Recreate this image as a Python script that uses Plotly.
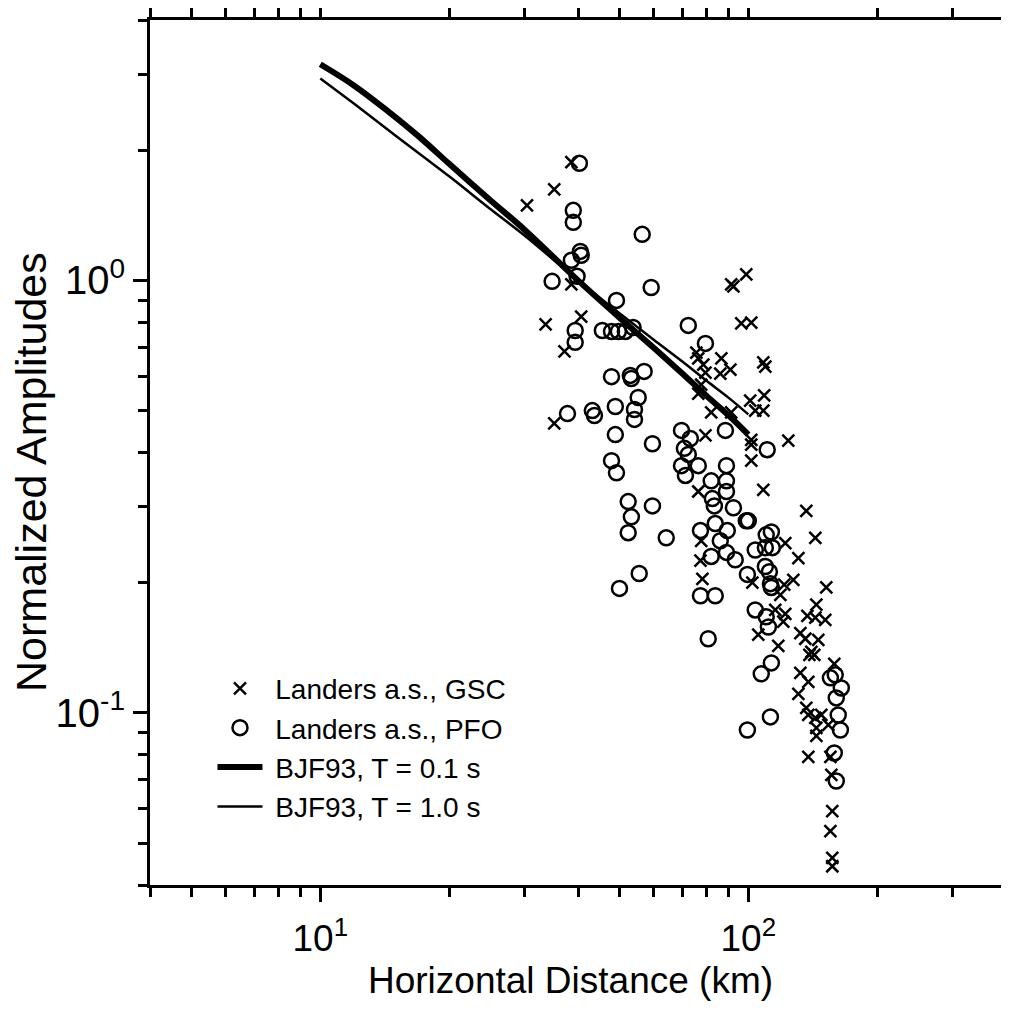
import plotly.graph_objects as go

# Landers aftershocks recorded at GSC (crosses)
gsc_dist = [38.6, 35.2, 30.4, 38.6, 40.7, 33.6, 37.2, 35.2, 75.6, 76.4,
            78.5, 79.4, 91.2, 92.3, 98.9, 96.3, 101.6, 86.5, 90.8, 86.0,
            108.4, 109.6, 108.9, 101.0, 103.8, 108.4, 77.6, 76.4, 81.9, 91.2,
            79.4, 101.6, 101.6, 124.0, 101.6, 108.4, 76.4, 136.6, 143.4, 77.6,
            122.0, 130.9, 77.3, 78.1, 127.4, 121.3, 118.8, 152.1, 102.2, 115.6,
            122.0, 120.7, 144.2, 137.4, 143.4, 151.3, 105.5, 117.5, 132.3, 135.9,
            145.7, 140.4, 142.6, 138.9, 158.8, 132.3, 138.1, 130.9, 136.6, 138.1,
            143.4, 148.1, 153.8, 144.2, 144.2, 138.1, 155.5, 156.3, 157.1, 155.5,
            157.1, 157.1]
gsc_amp = [1.876, 1.624, 1.491, 0.979, 0.825, 0.791, 0.685, 0.467, 0.681, 0.660,
           0.639, 0.612, 0.979, 0.969, 1.032, 0.795, 0.799, 0.660, 0.622, 0.609,
           0.646, 0.632, 0.542, 0.527, 0.500, 0.500, 0.574, 0.547, 0.495, 0.495,
           0.438, 0.428, 0.417, 0.426, 0.383, 0.328, 0.325, 0.293, 0.254, 0.250,
           0.247, 0.228, 0.225, 0.204, 0.203, 0.198, 0.1875, 0.195, 0.200, 0.173,
           0.1695, 0.1625, 0.178, 0.1677, 0.166, 0.164, 0.1516, 0.1429, 0.153, 0.1484,
           0.1476, 0.1384, 0.1362, 0.1362, 0.1298, 0.1238, 0.118, 0.1106, 0.1027, 0.0989,
           0.0974, 0.0989, 0.0938, 0.0923, 0.0885, 0.0791, 0.0791, 0.0719, 0.0593, 0.0533,
           0.0462, 0.0442]

# Landers aftershocks recorded at PFO (circles)
pfo_dist = [40.3, 39.0, 39.0, 56.5, 40.5, 40.7, 38.6, 39.8, 34.8, 59.3,
            49.2, 39.4, 39.4, 45.6, 47.9, 49.7, 51.6, 53.8, 72.4, 79.4,
            47.9, 53.0, 53.3, 57.1, 55.3, 54.2, 54.2, 48.9, 37.8, 43.2,
            43.7, 48.9, 59.7, 47.9, 49.2, 69.8, 73.2, 70.9, 72.4, 69.8,
            71.3, 76.4, 88.4, 110.7, 88.9, 81.9, 88.9, 88.9, 82.4, 83.3,
            92.3, 52.4, 53.3, 52.4, 59.7, 64.3, 83.7, 77.3, 89.3, 86.0,
            88.9, 93.2, 98.9, 100.0, 81.9, 77.3, 83.7, 55.6, 50.0, 80.6,
            99.5, 103.8, 110.1, 113.2, 109.6, 113.8, 109.6, 112.0, 112.6, 113.2,
            103.8, 110.1, 111.4, 107.2, 113.2, 155.5, 159.6, 164.9, 160.5, 162.2,
            164.1, 112.6, 99.5, 158.8, 160.5]
pfo_amp = [1.866, 1.452, 1.362, 1.278, 1.167, 1.143, 1.113, 1.022, 0.995, 0.963,
           0.899, 0.766, 0.719, 0.766, 0.762, 0.762, 0.762, 0.778, 0.787, 0.715,
           0.599, 0.603, 0.593, 0.616, 0.536, 0.503, 0.477, 0.511, 0.492, 0.500,
           0.487, 0.440, 0.419, 0.383, 0.359, 0.450, 0.431, 0.409, 0.396, 0.373,
           0.354, 0.373, 0.450, 0.406, 0.373, 0.344, 0.344, 0.325, 0.313, 0.301,
           0.298, 0.308, 0.284, 0.261, 0.301, 0.254, 0.274, 0.264, 0.264, 0.250,
           0.235, 0.226, 0.278, 0.278, 0.230, 0.1866, 0.1866, 0.210, 0.194, 0.1484,
           0.209, 0.238, 0.258, 0.262, 0.241, 0.241, 0.218, 0.212, 0.199, 0.195,
           0.173, 0.1668, 0.158, 0.1231, 0.1305, 0.1205, 0.1225, 0.1142, 0.1083, 0.0989,
           0.0913, 0.0979, 0.0913, 0.0808, 0.0696]

# BJF93 curves
bjf01_dist = [10, 12, 14.4, 17, 20, 25, 30, 40, 50, 60, 70, 80, 90, 100]
bjf01_amp = [3.16, 2.82, 2.46, 2.15, 1.86, 1.53, 1.31, 1.00, 0.82, 0.70, 0.61, 0.54, 0.487, 0.44]
bjf10_dist = [10, 12, 15, 20, 25, 30, 40, 50, 60, 70, 80, 90, 100]
bjf10_amp = [2.93, 2.56, 2.16, 1.74, 1.46, 1.27, 1.00, 0.84, 0.73, 0.65, 0.585, 0.535, 0.49]

x_ticks = [10, 100]
x_ticktext = ["10<sup>1</sup>", "10<sup>2</sup>"]
x_minor = [4, 5, 6, 7, 8, 9, 20, 30, 40, 50, 60, 70, 80, 90, 200, 300, 400]
y_ticks = [0.1, 1]
y_ticktext = ["10<sup>-1</sup>", "10<sup>0</sup>"]
y_minor = [0.04, 0.05, 0.06, 0.07, 0.08, 0.09, 0.2, 0.3, 0.4, 0.5, 0.6, 0.7, 0.8, 0.9, 2, 3, 4]

FONT = "Liberation Sans, Arial, Helvetica, sans-serif"
GAP = "\u00a0"  # a little extra room between legend symbol and text

fig = go.Figure()

fig.add_trace(go.Scatter(
    x=gsc_dist, y=gsc_amp, mode="markers", name=GAP + "Landers a.s., GSC",
    legendgroup="a",
    marker=dict(symbol="x-thin", size=12, color="black",
                line=dict(color="black", width=2.5)),
))
fig.add_trace(go.Scatter(
    x=pfo_dist, y=pfo_amp, mode="markers", name=GAP + "Landers a.s., PFO",
    legendgroup="b",
    marker=dict(symbol="circle-open", size=15, color="black",
                line=dict(color="black", width=2.5)),
))
fig.add_trace(go.Scatter(
    x=bjf01_dist, y=bjf01_amp, mode="lines", name=GAP + "BJF93, T = 0.1 s",
    legendgroup="c", line=dict(color="black", width=6, shape="spline"),
))
fig.add_trace(go.Scatter(
    x=bjf10_dist, y=bjf10_amp, mode="lines", name=GAP + "BJF93, T = 1.0 s",
    legendgroup="d", line=dict(color="black", width=2.5, shape="spline"),
))

axis_common = dict(
    type="log", showgrid=False, zeroline=False, automargin=False,
    showline=True, linecolor="black", linewidth=3, mirror="ticks",
    ticks="outside", tickcolor="black", tickwidth=2.5, ticklen=14,
    tickmode="array",
)

fig.update_xaxes(
    **axis_common,
    range=[0.60206, 2.60206],
    tickvals=x_ticks, ticktext=x_ticktext,
    tickfont=dict(family=FONT, size=37, color="black"),
    ticklabelstandoff=5,
    minor=dict(tickmode="array", tickvals=x_minor, ticks="outside",
               ticklen=9, tickwidth=2.5, tickcolor="black"),
)
fig.update_yaxes(
    **axis_common,
    range=[-1.39794, 0.60206],
    tickvals=y_ticks, ticktext=y_ticktext,
    tickfont=dict(family=FONT, size=40, color="black"),
    minor=dict(tickmode="array", tickvals=y_minor, ticks="outside",
               ticklen=9, tickwidth=2.5, tickcolor="black"),
)

# axis titles placed as annotations to sit where the original has them
fig.add_annotation(
    text="Horizontal Distance (km)", xref="paper", yref="paper",
    x=0.491, y=-0.110, xanchor="center", yanchor="middle", showarrow=False,
    font=dict(family=FONT, size=37, color="black"),
)
fig.add_annotation(
    text="Normalized Amplitudes", xref="paper", yref="paper", textangle=-90,
    x=-0.139, y=0.4775, xanchor="center", yanchor="middle", showarrow=False,
    font=dict(family=FONT, size=43, color="black"),
)

fig.update_layout(
    width=1001, height=1002,
    margin=dict(l=142, r=3, t=12, b=125),
    paper_bgcolor="white", plot_bgcolor="white",
    font=dict(family=FONT, color="black"),
    showlegend=True,
    legend=dict(
        x=0.073, y=0.256, xanchor="left", yanchor="top",
        bgcolor="rgba(0,0,0,0)", borderwidth=0,
        font=dict(family=FONT, size=28, color="black"),
        itemwidth=45, tracegroupgap=0,
    ),
)

fig.write_html("out.html")
